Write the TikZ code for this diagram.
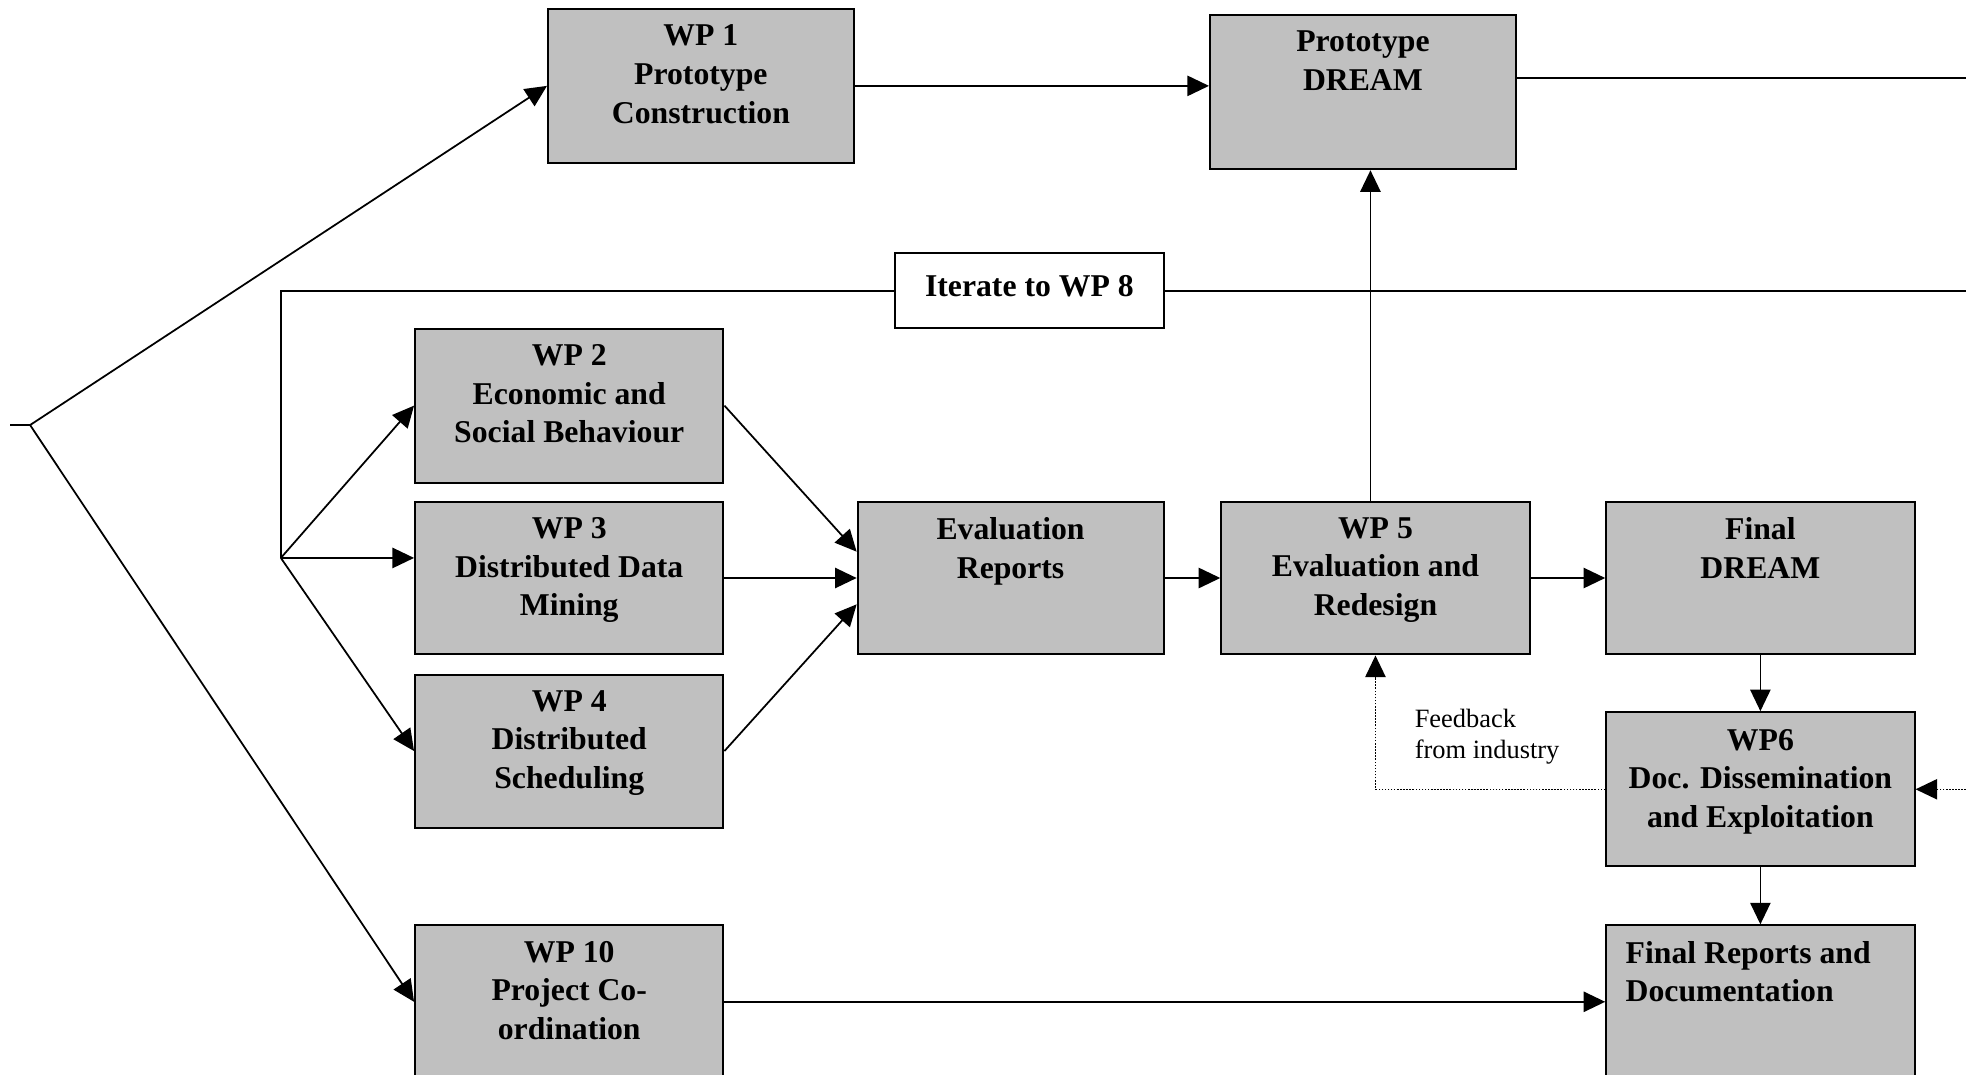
\documentclass[tikz,border=0pt]{standalone}
\usepackage{fontspec}
\setmainfont{Liberation Serif}
\usetikzlibrary{arrows.meta,calc}
\definecolor{boxgray}{RGB}{192,192,192}
\begin{document}
\begin{tikzpicture}[x=0.02cm,y=-0.02cm,
  wpbox/.style={draw=black, line width=0.9pt, fill=boxgray, inner sep=0pt},
  wptext/.style={anchor=north, align=center, inner sep=0pt, font=\bfseries\fontsize{14.4}{17.6}\selectfont},
  ln/.style={draw=black, line width=0.8pt},
  arr/.style={ln, -{Triangle[length=9.8pt,width=9.2pt]}},
  dotarr/.style={draw=black, line width=0.7pt, dash pattern=on 0.7pt off 0.7pt, -{Triangle[length=9.8pt,width=9.2pt]}},
  fbtext/.style={anchor=north west, align=left, inner sep=0pt, font=\fontsize{12}{14.2}\selectfont}]
\clip (0,0) rectangle (1568,857);
\fill[white] (0,0) rectangle (1568,857);
% boxes
\node[wpbox, minimum width=4.88cm, minimum height=2.46cm] (wp1) at (559,68.5) {};
\node[wpbox, minimum width=4.88cm, minimum height=2.46cm] (pd) at (1087,73.5) {};
\node[draw=black, line width=0.9pt, fill=white, minimum width=4.28cm, minimum height=1.2cm, inner sep=0pt,
      font=\bfseries\fontsize{14.4}{17.6}\selectfont] (iter) at (821,232) {\raisebox{4.6pt}{Iterate to WP 8}};
\node[wpbox, minimum width=4.92cm, minimum height=2.46cm] (wp2) at (454,323.5) {};
\node[wpbox, minimum width=4.92cm, minimum height=2.44cm] (wp3) at (454,461) {};
\node[wpbox, minimum width=4.92cm, minimum height=2.44cm] (wp4) at (454,599) {};
\node[wpbox, minimum width=4.92cm, minimum height=2.44cm] (wp10) at (454,799) {};
\node[wpbox, minimum width=4.88cm, minimum height=2.44cm] (er) at (806,461) {};
\node[wpbox, minimum width=4.92cm, minimum height=2.44cm] (wp5) at (1097,461) {};
\node[wpbox, minimum width=4.92cm, minimum height=2.44cm] (fd) at (1404,461) {};
\node[wpbox, minimum width=4.92cm, minimum height=2.46cm] (wp6) at (1404,629.5) {};
\node[wpbox, minimum width=4.92cm, minimum height=2.44cm] (fr) at (1404,799) {};
% texts
\node[wptext] (wp1t) at ($(wp1.north)+(0,13)$) {WP 1\\Prototype\\Construction};
\node[wptext] (pdt) at ($(pd.north)+(0,13)$) {Prototype\\DREAM};
\node[wptext] (wp2t) at ($(wp2.north)+(0,13)$) {WP 2\\Economic and\\Social Behaviour};
\node[wptext] (wp3t) at ($(wp3.north)+(0,13)$) {WP 3\\Distributed Data\\Mining};
\node[wptext] (wp4t) at ($(wp4.north)+(0,13)$) {WP 4\\Distributed\\Scheduling};
\node[wptext] (wp10t) at ($(wp10.north)+(0,13)$) {WP 10\\Project Co-\\ordination};
\node[wptext] (ert) at ($(er.north)+(0,13)$) {Evaluation\\Reports};
\node[wptext] (wp5t) at ($(wp5.north)+(0,13)$) {WP 5\\Evaluation and\\Redesign};
\node[wptext] (fdt) at ($(fd.north)+(0,13)$) {Final\\DREAM};
\node[wptext] (wp6t) at ($(wp6.north)+(0,14)$) {WP6\\Doc. Dissemination\\and Exploitation};
\node[wptext, anchor=north west, align=left] (frt) at ($(fr.north west)+(16,13)$) {Final Reports and\\Documentation};
\node[fbtext] (fb) at (1128,565) {Feedback\\from industry};
% connectors
\coordinate (brL) at (8,339);
\coordinate (br) at (24,339);
\draw[ln] (brL) -- (br);
\draw[arr] (br) -- (wp1.west);
\draw[arr] (br) -- (wp10.west);
\coordinate (fan) at (224,445);
\draw[ln] (iter.west) -- (fan |- iter.west) -- (fan);
\coordinate (iterR) at (1568,232);
\draw[ln] (iter.east) -- (iterR);
\draw[arr] (fan) -- (wp2.west);
\draw[arr] (fan) -- (wp3.west |- fan);
\draw[arr] (fan) -- (wp4.west);
\draw[arr] (wp1.east) -- (wp1.east -| pd.west);
\coordinate (pdR) at (1568,62.5);
\draw[ln] (pd.east |- pdR) -- (pdR);
\draw[arr] (wp2.east) -- ($(er.west)+(0,-21)$);
\draw[arr] (wp3.east) -- (er.west);
\draw[arr] (wp4.east) -- ($(er.west)+(0,21)$);
\draw[arr] (er.east) -- (wp5.west);
\draw[arr] (wp5.east) -- (fd.west);
\draw[arr] ($(wp5.north)+(-4,0)$) -- ($(pd.south)+(6,0)$);
\draw[arr] (fd.south) -- (wp6.north);
\draw[arr] (wp6.south) -- (fr.north);
\draw[arr] (wp10.east) -- (fr.west);
\draw[dotarr] (wp6.west) -| (wp5.south);
\coordinate (wp6R) at (1568,629.5);
\draw[dotarr] (wp6R) -- (wp6.east);
\end{tikzpicture}
\end{document}
